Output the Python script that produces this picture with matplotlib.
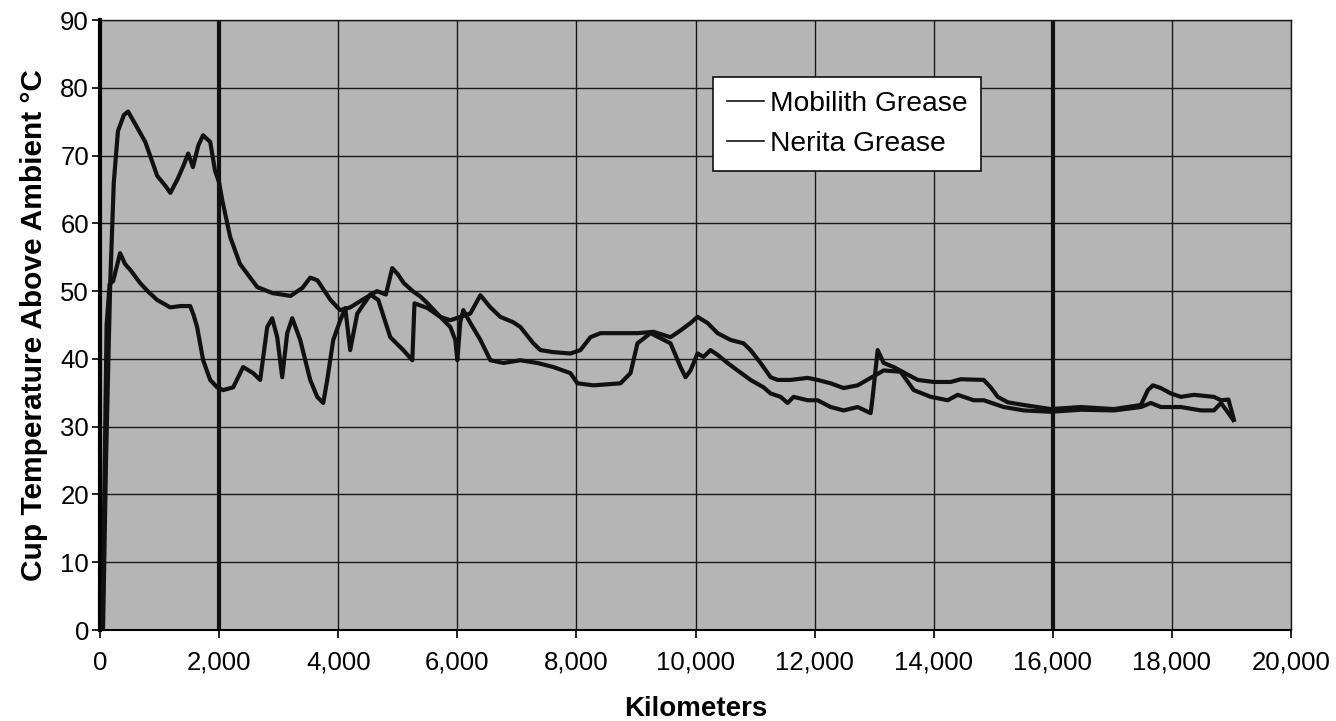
import matplotlib
matplotlib.use("Agg")
import matplotlib.pyplot as plt

plt.rcParams['font.family'] = ['Liberation Sans', 'DejaVu Sans']

# ---- data ----
mobilith_km = [50, 100, 170, 230, 300, 400, 470, 600, 760, 960, 1100, 1180, 1300, 1400, 1480,
               1560, 1650, 1730, 1850, 1930, 2000, 2050, 2185, 2350, 2640, 2900, 3200, 3400,
               3530, 3650, 3870, 4030, 4200, 4420, 4650, 4800, 4907, 5000, 5100, 5250, 5380,
               5500, 5714, 5882, 5966, 6000, 6050, 6100, 6218, 6387, 6555, 6773, 7059, 7344,
               7613, 7899, 8017, 8286, 8739, 8908, 9025, 9244, 9580, 9748, 9832, 9916, 10034,
               10134, 10252, 10370, 10538, 10706, 10924, 11143, 11261, 11429, 11546, 11647,
               11882, 12050, 12269, 12487, 12723, 12941, 12975, 13059, 13160, 13328, 13731,
               14000, 14286, 14454, 14840, 14958, 15076, 15244, 15513, 15966, 16470, 17025,
               17479, 17597, 17681, 17815, 17983, 18151, 18370, 18706, 18824, 18950, 19042]
mobilith_temp = [0, 25, 51, 66, 73.6, 76, 76.5, 74.5, 72, 67, 65.5, 64.5, 66.5, 68.5, 70.3,
                 68.3, 71.5, 73, 72, 67.8, 66, 63.5, 58, 54, 50.6, 49.7, 49.3, 50.5,
                 52, 51.6, 48.7, 47.2, 47.6, 48.8, 50, 49.5, 53.4, 52.5, 51.2, 50, 49.2,
                 48.2, 46.2, 44.7, 42.8, 39.8, 45.5, 47.2, 45.3, 42.8, 39.8, 39.4, 39.8, 39.4,
                 38.8, 37.9, 36.4, 36.1, 36.4, 37.9, 42.3, 43.8, 42.3, 38.8, 37.3, 38.3, 40.8,
                 40.3, 41.3, 40.6, 39.4, 38.3, 36.9, 35.8, 34.9, 34.4, 33.5, 34.4,
                 33.9, 33.9, 32.9, 32.4, 32.9, 32.0, 34.4, 41.3, 39.4, 38.8, 36.9,
                 36.6, 36.6, 37.0, 36.9, 35.8, 34.4, 33.6, 33.2, 32.6, 32.9, 32.6,
                 33.2, 35.4, 36.1, 35.7, 34.9, 34.4, 34.7, 34.4, 33.9, 34.0, 31.0]

nerita_km = [40, 110, 160, 220, 336, 420, 520, 672, 800, 958, 1100, 1176, 1350, 1513, 1570,
             1630, 1731, 1849, 1966, 2067, 2235, 2403, 2571, 2689, 2807, 2891, 2975, 3059,
             3143, 3227, 3361, 3529, 3647, 3748, 3815, 3916, 4034, 4118, 4200, 4320, 4538,
             4672, 4874, 5092, 5244, 5280, 5500, 5714, 5882, 6050, 6218, 6387, 6555, 6723,
             6941, 7059, 7277, 7395, 7613, 7899, 8067, 8235, 8403, 9025, 9294, 9580, 9748,
             9916, 10034, 10202, 10370, 10588, 10807, 10924, 11092, 11261, 11378, 11597,
             11882, 12050, 12269, 12487, 12723, 12941, 13160, 13445, 13664, 13950, 14235,
             14403, 14672, 14840, 15176, 15513, 15966, 16470, 17025, 17479, 17647, 17815,
             18151, 18487, 18706, 18824, 18950, 19030]
nerita_temp = [0, 45, 51, 51.5, 55.6, 54, 53, 51.2, 50, 48.7, 48, 47.6, 47.8, 47.8, 46.5,
               44.7, 39.8, 36.9, 35.8, 35.4, 35.8, 38.8, 37.9, 36.9, 44.7, 46.0, 43.2, 37.3,
               43.8, 46.0, 42.8, 36.9, 34.4, 33.5, 36.9, 42.8, 45.7, 47.5, 41.3, 46.7, 49.5,
               48.7, 43.2, 41.3, 39.8, 48.2, 47.5, 46.2, 45.7, 46.2, 46.7, 49.4, 47.6, 46.2,
               45.4, 44.7, 42.3, 41.3, 41.0, 40.8, 41.3, 43.2, 43.8, 43.8, 44.0, 43.2, 44.2,
               45.3, 46.2, 45.3, 43.8, 42.8, 42.3, 41.3, 39.4, 37.3, 36.9, 36.9,
               37.2, 36.9, 36.4, 35.7, 36.1, 37.2, 38.3, 38.1, 35.4, 34.4, 33.9,
               34.7, 33.9, 33.9, 32.9, 32.4, 32.2, 32.5, 32.4, 32.9, 33.5, 32.9,
               32.9, 32.4, 32.4, 33.5, 32.0, 31.0]

series_names = ['Mobilith Grease', 'Nerita Grease']
x_ticks = list(range(0, 20001, 2000))
y_ticks = list(range(0, 91, 10))
marker_km = [2000, 16000]

# ---- figure ----
fig = plt.figure(figsize=(13.36, 7.21), dpi=100)
ax = fig.add_axes([0.0749, 0.1262, 0.8914, 0.846])
ax.set_facecolor('#b5b5b5')

ax.set_xlim(0, 20000)
ax.set_ylim(0, 90)
ax.set_xticks(x_ticks)
ax.set_yticks(y_ticks)
ax.set_xticklabels([f'{v:,}' for v in x_ticks])
ax.grid(True, color='#1a1a1a', linewidth=1.0)
ax.set_axisbelow(True)

for xm in marker_km:
    ax.axvline(xm, color='#111111', linewidth=3.0, zorder=1.5)

ax.plot(mobilith_km, mobilith_temp, color='#111111', linewidth=3.0, label=series_names[0], zorder=3)
ax.plot(nerita_km, nerita_temp, color='#111111', linewidth=3.0, label=series_names[1], zorder=3)

for s in ['top', 'right']:
    ax.spines[s].set_linewidth(1.0)
    ax.spines[s].set_color('#1a1a1a')
ax.spines['left'].set_linewidth(3.0)
ax.spines['bottom'].set_linewidth(1.5)

ax.tick_params(axis='both', direction='out', length=6, width=1.2, labelsize=18.5)
ax.tick_params(axis='x', pad=9)
ax.tick_params(axis='y', pad=2)

ax.set_xlabel('Kilometers', fontsize=20, fontweight='bold', labelpad=15)
ax.set_ylabel('Cup Temperature Above Ambient °C', fontsize=21.5, fontweight='bold', labelpad=9)

leg = ax.legend(loc='upper left', bbox_to_anchor=(0.503, 0.93), fontsize=20.3,
                frameon=True, fancybox=False, framealpha=1.0, edgecolor='#111111',
                handlelength=1.3, handletextpad=0.2, borderpad=0.5, labelspacing=0.5)
leg.get_frame().set_linewidth(1.2)
for h in leg.get_lines():
    h.set_linewidth(1.2)

fig.savefig('out.png', dpi=100, facecolor='white')
